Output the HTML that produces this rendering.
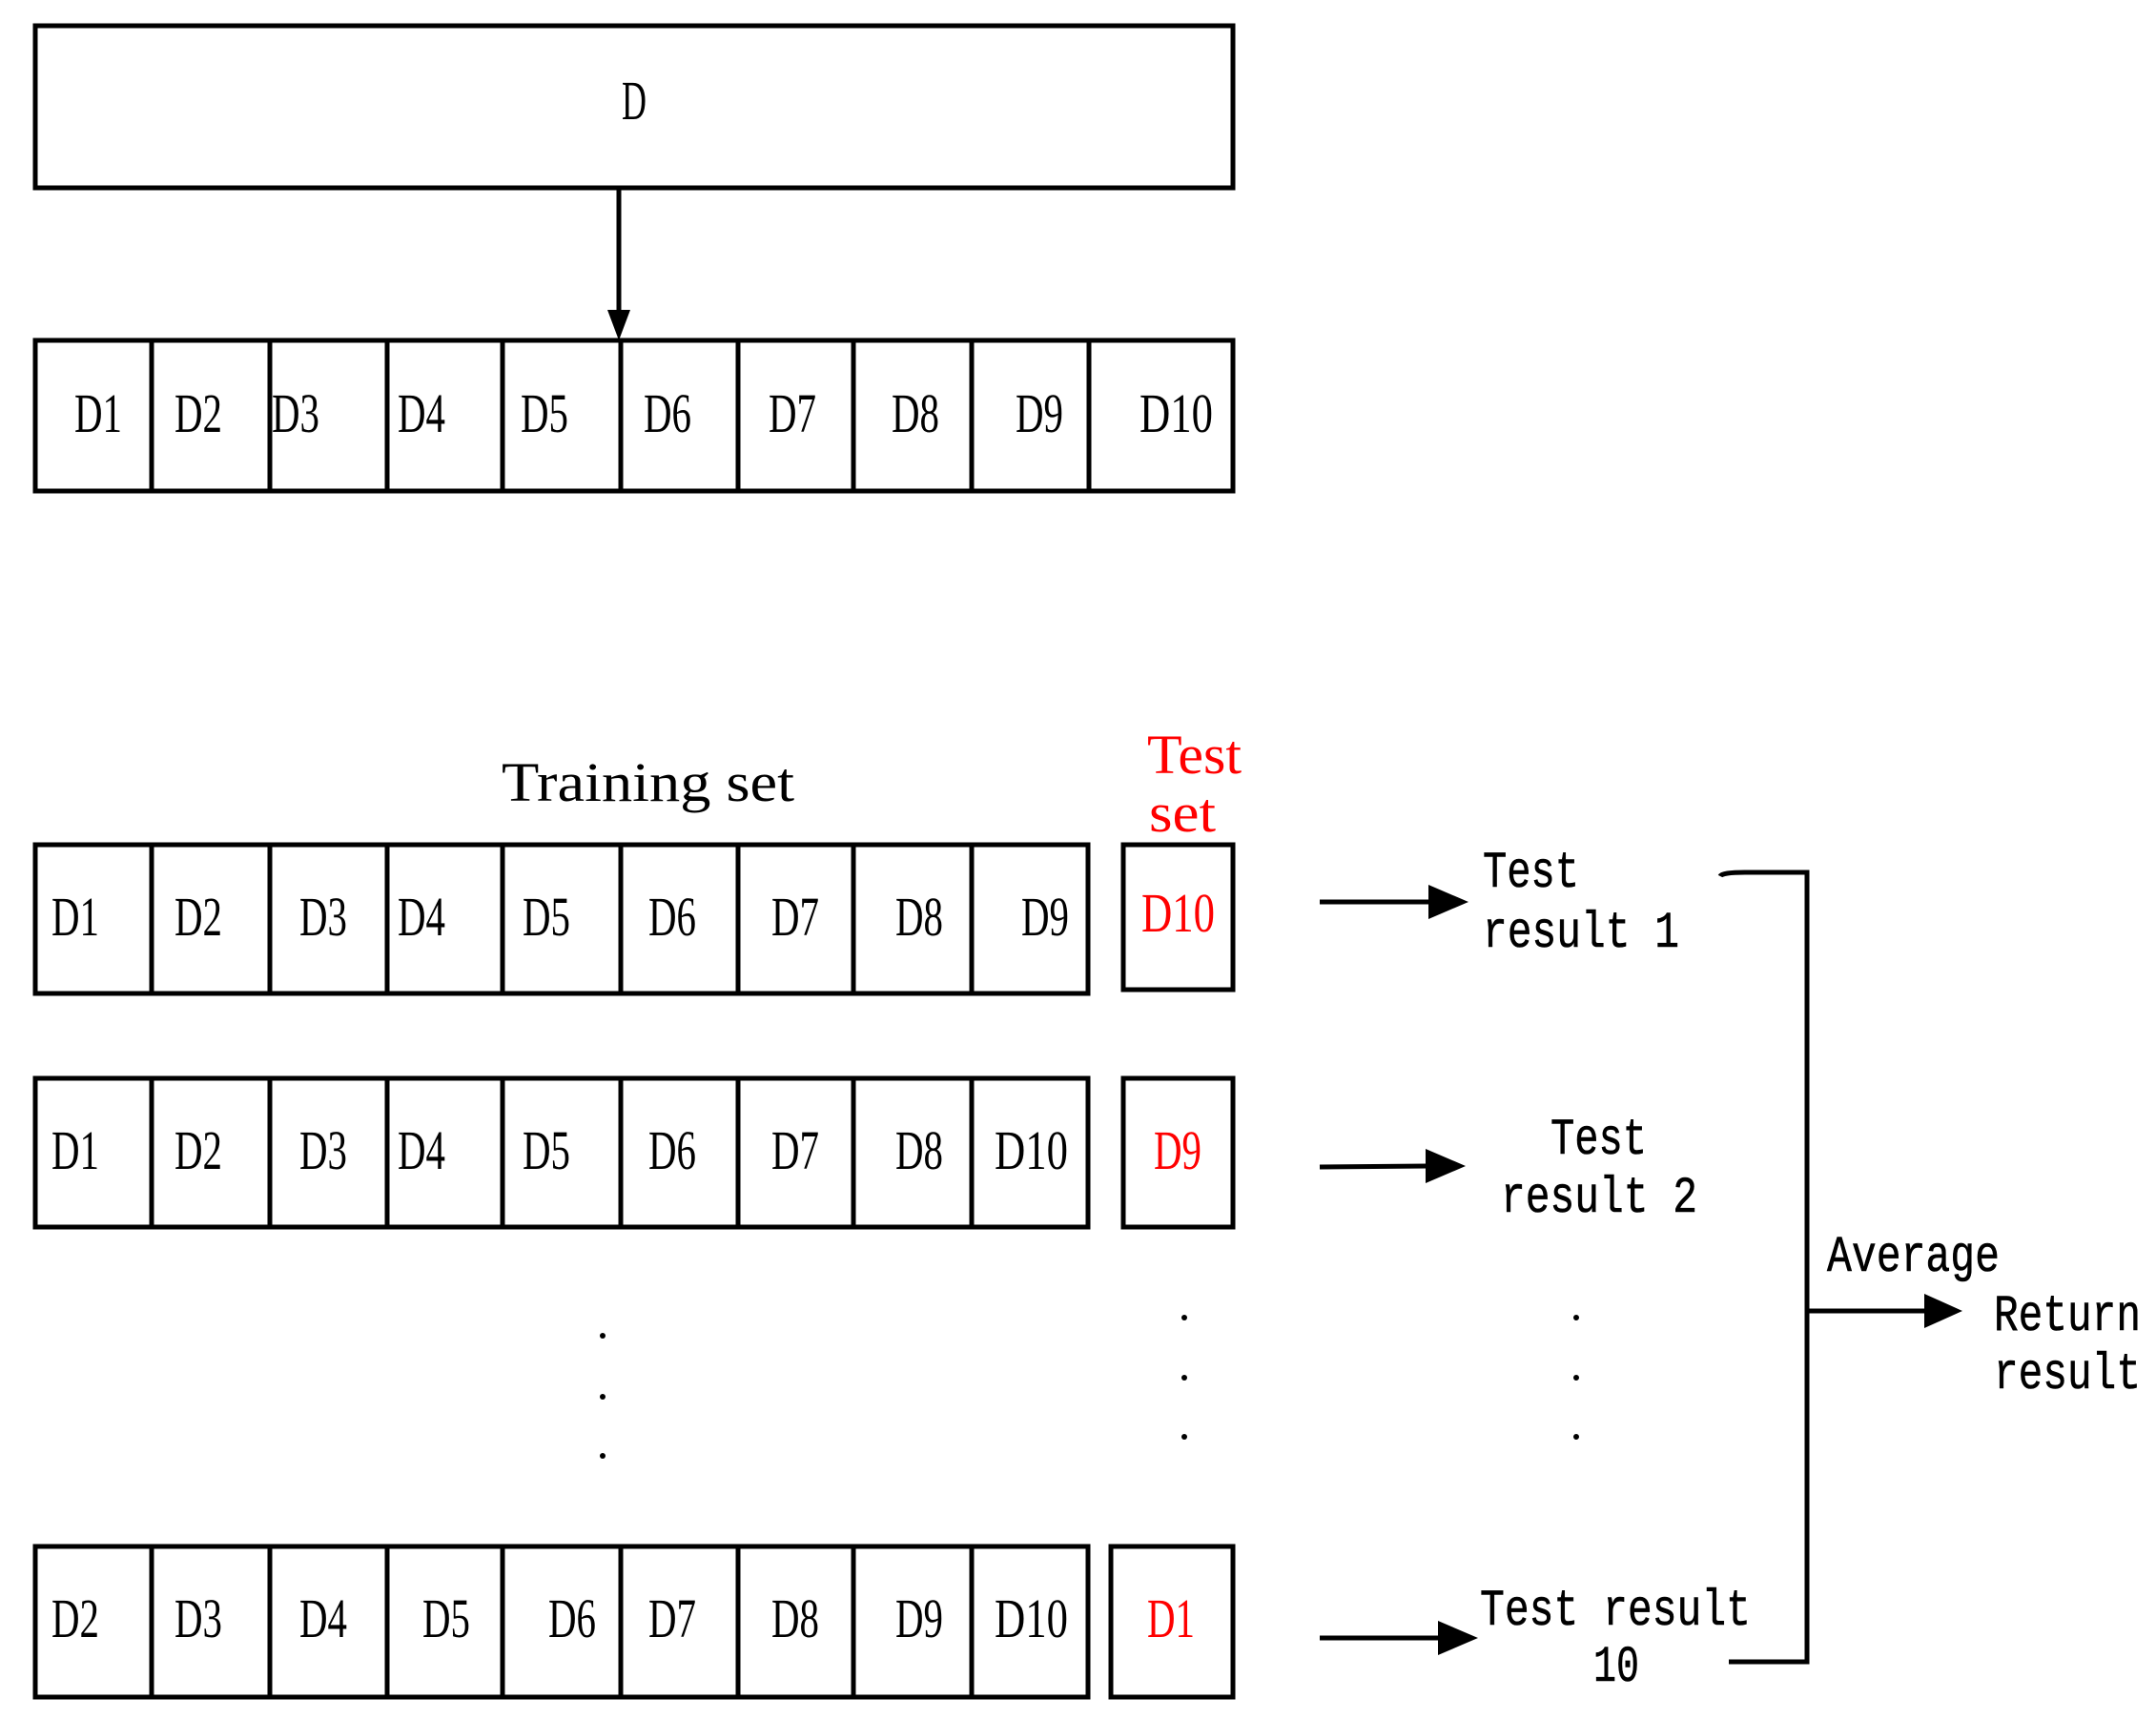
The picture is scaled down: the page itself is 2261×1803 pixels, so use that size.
<!DOCTYPE html>
<html><head><style>html,body{margin:0;padding:0;background:#fff}svg{display:block}
text{font-family:"Liberation Serif",serif;font-size:58px;fill:#000}
.m{font-family:"Liberation Mono",monospace;font-size:54px;stroke:#000;stroke-width:0.6}
.r{fill:#f00}</style></head><body>
<svg width="2261" height="1803" viewBox="0 0 2261 1803" xmlns="http://www.w3.org/2000/svg">
<g fill="none" stroke="#000" stroke-width="5">
<rect x="37" y="27" width="1256" height="170"/>
<line x1="649" y1="197" x2="649" y2="330"/>
<rect x="37" y="357" width="1256" height="158"/>
<path d="M159 357V515M283 357V515M406 357V515M527 357V515M651 357V515M774 357V515M895 357V515M1019 357V515M1142 357V515"/>
<rect x="37" y="886" width="1104" height="156"/>
<path d="M159 886V1042M283 886V1042M406 886V1042M527 886V1042M651 886V1042M774 886V1042M895 886V1042M1019 886V1042"/>
<rect x="1178" y="886" width="115" height="152"/>
<rect x="37" y="1131" width="1104" height="156"/>
<path d="M159 1131V1287M283 1131V1287M406 1131V1287M527 1131V1287M651 1131V1287M774 1131V1287M895 1131V1287M1019 1131V1287"/>
<rect x="1178" y="1131" width="115" height="156"/>
<rect x="37" y="1622" width="1104" height="158"/>
<path d="M159 1622V1780M283 1622V1780M406 1622V1780M527 1622V1780M651 1622V1780M774 1622V1780M895 1622V1780M1019 1622V1780"/>
<rect x="1165" y="1622" width="128" height="158"/>
<line x1="1384" y1="946" x2="1500" y2="946"/>
<line x1="1384" y1="1224" x2="1498" y2="1223"/>
<line x1="1384" y1="1718" x2="1510" y2="1718"/>
<path d="M1804 919Q1806 915 1830 915H1895V1743H1813"/>
<line x1="1895" y1="1375" x2="2022" y2="1375"/>
</g>
<g fill="#000">
<polygon points="637,325 661,325 649,357"/>
<polygon points="1498,928 1540,946 1498,964"/>
<polygon points="1495,1205 1537,1223 1495,1241"/>
<polygon points="1508,1700 1550,1718 1508,1736"/>
<polygon points="2018,1357 2058,1375 2018,1393"/>
<circle cx="632" cy="1401" r="3"/><circle cx="632" cy="1465" r="3"/><circle cx="632" cy="1527" r="3"/>
<circle cx="1242" cy="1382" r="3"/><circle cx="1242" cy="1445" r="3"/><circle cx="1242" cy="1507" r="3"/>
<circle cx="1653" cy="1382" r="3"/><circle cx="1653" cy="1445" r="3"/><circle cx="1653" cy="1507" r="3"/>
</g>
<text x="652" y="125" textLength="26" lengthAdjust="spacingAndGlyphs">D</text>
<g>
<text x="78" y="453" textLength="50" lengthAdjust="spacingAndGlyphs">D1</text>
<text x="183" y="453" textLength="50" lengthAdjust="spacingAndGlyphs">D2</text>
<text x="285" y="453" textLength="50" lengthAdjust="spacingAndGlyphs">D3</text>
<text x="417" y="453" textLength="50" lengthAdjust="spacingAndGlyphs">D4</text>
<text x="546" y="453" textLength="50" lengthAdjust="spacingAndGlyphs">D5</text>
<text x="675" y="453" textLength="50" lengthAdjust="spacingAndGlyphs">D6</text>
<text x="806" y="453" textLength="50" lengthAdjust="spacingAndGlyphs">D7</text>
<text x="935" y="453" textLength="50" lengthAdjust="spacingAndGlyphs">D8</text>
<text x="1065" y="453" textLength="50" lengthAdjust="spacingAndGlyphs">D9</text>
<text x="1195" y="453" textLength="77" lengthAdjust="spacingAndGlyphs">D10</text>

<text x="54" y="981" textLength="50" lengthAdjust="spacingAndGlyphs">D1</text>
<text x="183" y="981" textLength="50" lengthAdjust="spacingAndGlyphs">D2</text>
<text x="314" y="981" textLength="50" lengthAdjust="spacingAndGlyphs">D3</text>
<text x="417" y="981" textLength="50" lengthAdjust="spacingAndGlyphs">D4</text>
<text x="548" y="981" textLength="50" lengthAdjust="spacingAndGlyphs">D5</text>
<text x="680" y="981" textLength="50" lengthAdjust="spacingAndGlyphs">D6</text>
<text x="809" y="981" textLength="50" lengthAdjust="spacingAndGlyphs">D7</text>
<text x="939" y="981" textLength="50" lengthAdjust="spacingAndGlyphs">D8</text>
<text x="1071" y="981" textLength="50" lengthAdjust="spacingAndGlyphs">D9</text>
<text class="r" x="1197" y="977" textLength="77" lengthAdjust="spacingAndGlyphs">D10</text>

<text x="54" y="1226" textLength="50" lengthAdjust="spacingAndGlyphs">D1</text>
<text x="183" y="1226" textLength="50" lengthAdjust="spacingAndGlyphs">D2</text>
<text x="314" y="1226" textLength="50" lengthAdjust="spacingAndGlyphs">D3</text>
<text x="417" y="1226" textLength="50" lengthAdjust="spacingAndGlyphs">D4</text>
<text x="548" y="1226" textLength="50" lengthAdjust="spacingAndGlyphs">D5</text>
<text x="680" y="1226" textLength="50" lengthAdjust="spacingAndGlyphs">D6</text>
<text x="809" y="1226" textLength="50" lengthAdjust="spacingAndGlyphs">D7</text>
<text x="939" y="1226" textLength="50" lengthAdjust="spacingAndGlyphs">D8</text>
<text x="1043" y="1226" textLength="77" lengthAdjust="spacingAndGlyphs">D10</text>
<text class="r" x="1210" y="1226" textLength="50" lengthAdjust="spacingAndGlyphs">D9</text>

<text x="54" y="1717" textLength="50" lengthAdjust="spacingAndGlyphs">D2</text>
<text x="183" y="1717" textLength="50" lengthAdjust="spacingAndGlyphs">D3</text>
<text x="314" y="1717" textLength="50" lengthAdjust="spacingAndGlyphs">D4</text>
<text x="443" y="1717" textLength="50" lengthAdjust="spacingAndGlyphs">D5</text>
<text x="575" y="1717" textLength="50" lengthAdjust="spacingAndGlyphs">D6</text>
<text x="680" y="1717" textLength="50" lengthAdjust="spacingAndGlyphs">D7</text>
<text x="809" y="1717" textLength="50" lengthAdjust="spacingAndGlyphs">D8</text>
<text x="939" y="1717" textLength="50" lengthAdjust="spacingAndGlyphs">D9</text>
<text x="1043" y="1717" textLength="77" lengthAdjust="spacingAndGlyphs">D10</text>
<text class="r" x="1203" y="1717" textLength="50" lengthAdjust="spacingAndGlyphs">D1</text>
</g>
<text x="526" y="840" textLength="307" lengthAdjust="spacingAndGlyphs" style="font-size:58px;font-weight:normal">Training set</text>
<text class="r" x="1203" y="811" textLength="99" lengthAdjust="spacingAndGlyphs" style="font-size:58px">Test</text>
<text class="r" x="1205" y="872" textLength="70" lengthAdjust="spacingAndGlyphs" style="font-size:58px">set</text>
<text class="m" x="1555" y="930" textLength="101" lengthAdjust="spacingAndGlyphs">Test</text>
<text class="m" x="1555" y="993" textLength="206" lengthAdjust="spacingAndGlyphs">result 1</text>
<text class="m" x="1626" y="1210" textLength="101" lengthAdjust="spacingAndGlyphs">Test</text>
<text class="m" x="1574" y="1271" textLength="206" lengthAdjust="spacingAndGlyphs">result 2</text>
<text class="m" x="1552" y="1704" textLength="284" lengthAdjust="spacingAndGlyphs">Test result</text>
<text class="m" x="1671" y="1763" textLength="48" lengthAdjust="spacingAndGlyphs">10</text>
<text class="m" x="1916" y="1333" textLength="181" lengthAdjust="spacingAndGlyphs">Average</text>
<text class="m" x="2091" y="1395" textLength="154" lengthAdjust="spacingAndGlyphs">Return</text>
<text class="m" x="2091" y="1456" textLength="154" lengthAdjust="spacingAndGlyphs">result</text>
</svg>
</body></html>
